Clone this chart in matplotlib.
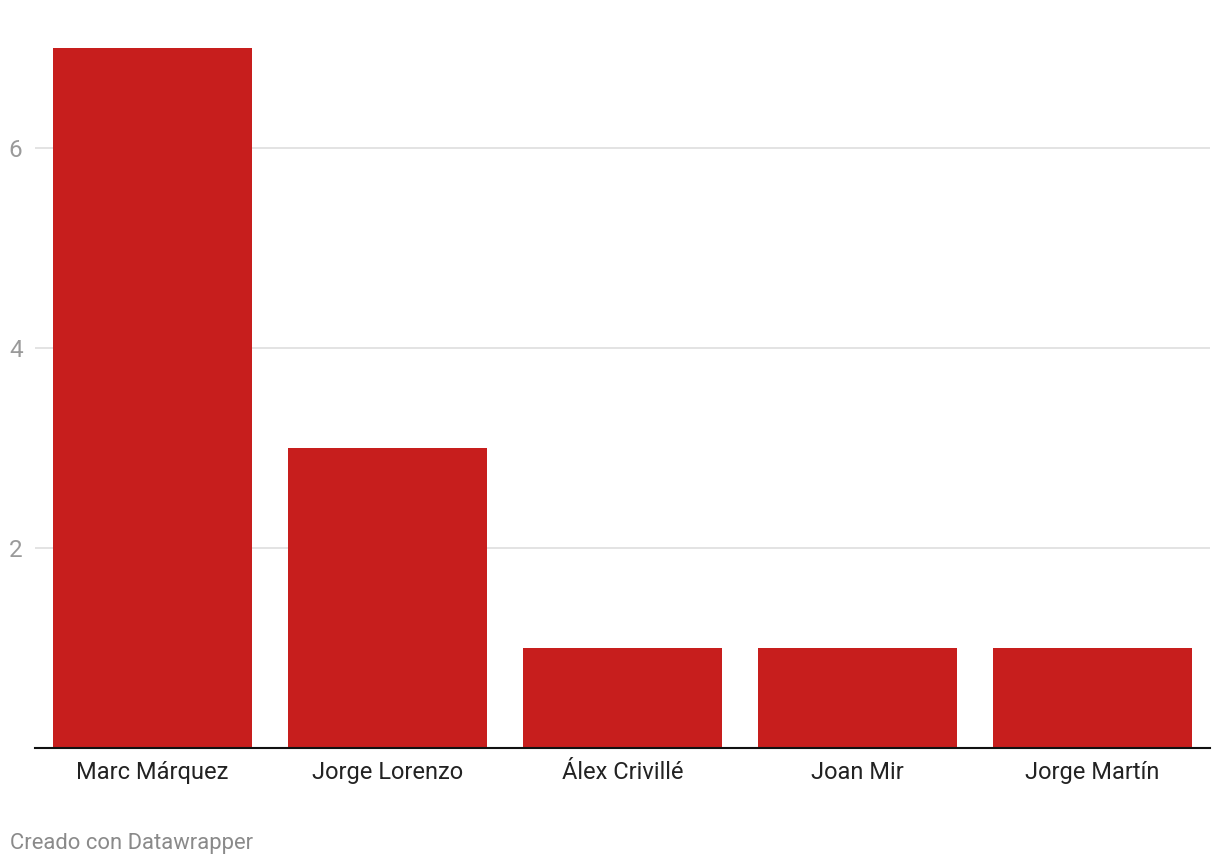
import matplotlib.pyplot as plt

BAR_RED = "#C71E1D"
GRID_GRAY = "#E3E3E3"
TICK_GRAY = "#9A9A9A"
LABEL_BLACK = "#222222"
CREDIT_GRAY = "#8A8A8A"

riders = ["Marc Márquez", "Jorge Lorenzo", "Álex Crivillé", "Joan Mir", "Jorge Martín"]
titles = [7, 3, 1, 1, 1]
y_ticks = [2, 4, 6]

plt.rcParams["font.family"] = ["Roboto", "DejaVu Sans"]

fig = plt.figure(figsize=(12.2, 8.68), dpi=100)
ax = fig.add_axes([35 / 1220, 1 - 747.5 / 868, 1175 / 1220, 699.5 / 868])

positions = list(range(len(riders)))
ax.bar(positions, titles, width=0.847, color=BAR_RED, zorder=2)

ax.set_xlim(-0.5, len(riders) - 0.5)
ax.set_ylim(0, 7)

ax.set_yticks(y_ticks)
ax.set_yticklabels([str(t) for t in y_ticks])
ax.tick_params(axis="y", length=0, pad=9, labelsize=17.5, labelcolor=TICK_GRAY)

ax.set_xticks(positions)
ax.set_xticklabels(riders)
ax.tick_params(axis="x", length=0, pad=10, labelsize=17, labelcolor=LABEL_BLACK)

ax.grid(axis="y", color=GRID_GRAY, linewidth=1.4, zorder=0)
ax.set_axisbelow(True)

for side in ["top", "right", "left"]:
    ax.spines[side].set_visible(False)
ax.spines["bottom"].set_color("#111111")
ax.spines["bottom"].set_linewidth(1.5)
ax.spines["bottom"].set_zorder(3)

fig.text(10 / 1220, 1 - 844 / 868, "Creado con Datawrapper",
         fontsize=15.8, color=CREDIT_GRAY, va="center", ha="left")

fig.savefig("out.png", dpi=100)
plt.close(fig)
